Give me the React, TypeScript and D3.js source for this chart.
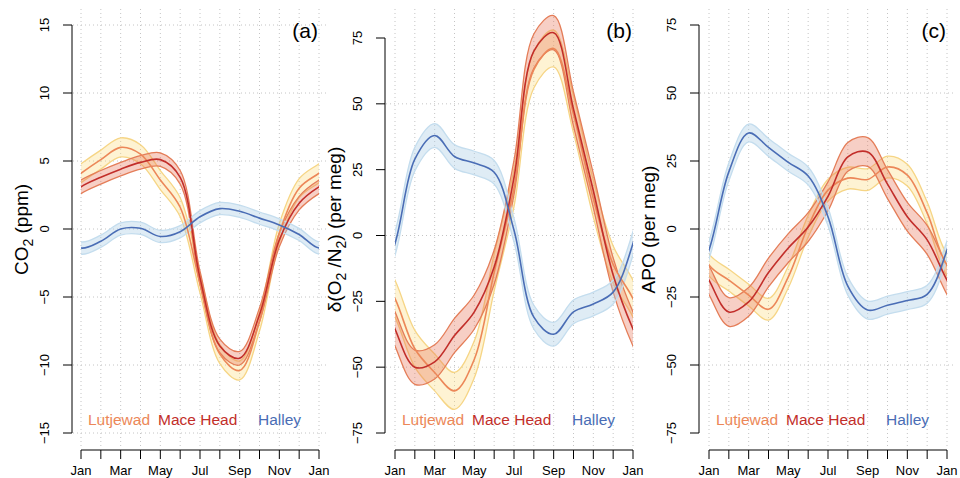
import React, { useEffect, useRef } from "react";
import * as d3 from "d3";

// month index 0..12 (Jan .. next Jan)
const months = ["Jan", "Feb", "Mar", "Apr", "May", "Jun", "Jul", "Aug", "Sep", "Oct", "Nov", "Dec", "Jan"];
const tickLabels = ["Jan", "", "Mar", "", "May", "", "Jul", "", "Sep", "", "Nov", "", "Jan"];
const sites = ["Lutjewad", "Mace Head", "Halley"];

// (a) CO2, ppm
const co2Lutjewad = [4.1, 5.1, 6.0, 5.5, 3.6, 1.6, -4.0, -9.2, -10.4, -6.8, -0.3, 3.0, 4.1];
const co2MaceHead = [3.1, 3.8, 4.4, 4.9, 5.1, 3.8, -3.6, -8.6, -9.5, -6.3, -0.8, 1.9, 3.1];
const co2Halley = [-1.4, -0.9, 0.0, 0.05, -0.55, -0.2, 0.9, 1.5, 1.3, 0.8, 0.3, -0.4, -1.4];
const co2Band = [0.7, 0.5, 0.45];

// (b) d(O2/N2), per meg
const o2Lutjewad = [-24, -43, -52, -59, -47, -14, 18, 63, 71, 46, 14, -11, -24];
const o2MaceHead = [-35.5, -50, -48, -38, -29, -12, 22, 70, 77, 48, 17, -15, -35.5];
const o2Halley = [-3, 29, 38, 30, 27.5, 24, 2, -31, -37.5, -29, -26, -21.5, -3];
const o2Band = [7, 6.5, 4.5];

// (c) APO, per meg
const apoLutjewad = [-13.2, -18.8, -24.3, -29.5, -17.6, 1, 14.3, 18.7, 18.2, 22.8, 19.8, 5.9, -13.2];
const apoMaceHead = [-18.8, -30.5, -26.8, -16, -7, 0.7, 12, 26.5, 28.3, 16.5, 4.5, -4, -18.8];
const apoHalley = [-7.7, 21, 35.3, 30, 24.5, 19.5, 4.5, -21, -29.8, -28, -26.3, -24, -7.7];
const apoBand = [4, 5.3, 3.3];

const yTicksA = [-15, -10, -5, 0, 5, 10, 15];
const yTicksBC = [-75, -50, -25, 0, 25, 50, 75];
const gridA = [-15, -10, -5, 0, 5, 10, 15];
const gridBC = [-50, 0, 50];

const lineColors = ["#EC8758", "#C22E2A", "#4A6DB5"];
const bandFill = ["rgba(253,222,130,0.35)", "rgba(232,110,80,0.33)", "rgba(170,205,230,0.38)"];
const bandStroke = ["#F6D585", "#E47D58", "#C4DDEE"];

const FONT = "'Liberation Sans', Arial, Helvetica, sans-serif";

const panels = [
  {
    id: "a", label: "(a)", axisX: 72, x0: 81, yTop: 25, domain: [-15, 15],
    yTicks: yTicksA, grid: gridA, band: co2Band,
    series: [co2Lutjewad, co2MaceHead, co2Halley],
    title: [["CO", 0], ["2", 1], [" (ppm)", 0]],
  },
  {
    id: "b", label: "(b)", axisX: 385, x0: 395, yTop: 38, domain: [-75, 75],
    yTicks: yTicksBC, grid: gridBC, band: o2Band,
    series: [o2Lutjewad, o2MaceHead, o2Halley],
    title: [["\u03b4(O", 0], ["2", 1], [" /N", 0], ["2", 1], [") (per meg)", 0]],
  },
  {
    id: "c", label: "(c)", axisX: 699, x0: 709, yTop: 25, domain: [-75, 75],
    yTicks: yTicksBC, grid: gridBC, band: apoBand,
    series: [apoLutjewad, apoMaceHead, apoHalley],
    title: [["APO (per meg)", 0]],
  },
];

function drawPanel(svg: any, p: any) {
  const x = d3.scaleLinear().domain([0, 12]).range([p.x0, p.x0 + 238]);
  const y = d3.scaleLinear().domain(p.domain).range([433, p.yTop]);
  const top = 9;
  const bottom = 450;
  const right = p.axisX + 257;

  const g = svg.append("g");

  // dotted grid
  g.append("g")
    .selectAll("line")
    .data(d3.range(13))
    .join("line")
    .attr("x1", (d: number) => x(d))
    .attr("x2", (d: number) => x(d))
    .attr("y1", top)
    .attr("y2", bottom - 1)
    .attr("stroke", "#C4C4C4")
    .attr("stroke-dasharray", "1,3");
  g.append("g")
    .selectAll("line")
    .data(p.grid)
    .join("line")
    .attr("x1", p.axisX + 1)
    .attr("x2", right)
    .attr("y1", (d: number) => y(d))
    .attr("y2", (d: number) => y(d))
    .attr("stroke", "#C4C4C4")
    .attr("stroke-dasharray", "1,3");

  // clip to Jan..Jan
  svg.append("clipPath")
    .attr("id", "clip-" + p.id)
    .append("rect")
    .attr("x", x(0))
    .attr("y", 0)
    .attr("width", x(12) - x(0))
    .attr("height", 478);

  const wrap = (vals: number[]) =>
    d3.range(-1, 14).map(i => ({ m: i, v: vals[(i + 12) % 12] }));

  const plot = g.append("g").attr("clip-path", `url(#clip-${p.id})`);

  p.series.forEach((vals: number[], k: number) => {
    const hw = p.band[k];
    const area = d3.area<any>()
      .x(d => x(d.m))
      .y0(d => y(d.v - hw))
      .y1(d => y(d.v + hw))
      .curve(d3.curveCatmullRom);
    plot.append("path")
      .attr("d", area(wrap(vals)))
      .attr("fill", bandFill[k])
      .attr("stroke", bandStroke[k])
      .attr("stroke-width", 1.3);
  });

  p.series.forEach((vals: number[], k: number) => {
    const line = d3.line<any>()
      .x(d => x(d.m))
      .y(d => y(d.v))
      .curve(d3.curveCatmullRom);
    plot.append("path")
      .attr("d", line(wrap(vals)))
      .attr("fill", "none")
      .attr("stroke", lineColors[k])
      .attr("stroke-width", 1.6);
  });

  // y axis
  const ya = g.append("g").attr("font-family", FONT).attr("font-size", 13);
  ya.append("line")
    .attr("x1", p.axisX).attr("x2", p.axisX)
    .attr("y1", y(p.yTicks[0])).attr("y2", y(p.yTicks[p.yTicks.length - 1]))
    .attr("stroke", "#000");
  p.yTicks.forEach((t: number) => {
    ya.append("line")
      .attr("x1", p.axisX - 9).attr("x2", p.axisX)
      .attr("y1", y(t)).attr("y2", y(t))
      .attr("stroke", "#000");
    ya.append("text")
      .attr("transform", `translate(${p.axisX - 23},${y(t)}) rotate(-90)`)
      .attr("text-anchor", "middle")
      .text(t < 0 ? "\u2212" + Math.abs(t) : String(t));
  });

  // x axis
  const xa = g.append("g").attr("font-family", FONT).attr("font-size", 13);
  xa.append("line")
    .attr("x1", x(0)).attr("x2", x(12))
    .attr("y1", bottom).attr("y2", bottom)
    .attr("stroke", "#000");
  months.forEach((m, i) => {
    xa.append("line")
      .attr("x1", x(i)).attr("x2", x(i))
      .attr("y1", bottom).attr("y2", bottom + 9)
      .attr("stroke", "#000");
    if (tickLabels[i])
      xa.append("text")
        .attr("x", x(i))
        .attr("y", 475)
        .attr("text-anchor", "middle")
        .text(tickLabels[i]);
  });

  // y title
  const title = g.append("text")
    .attr("transform", `translate(${p.axisX - 44},${(top + bottom) / 2}) rotate(-90)`)
    .attr("text-anchor", "middle")
    .attr("font-family", FONT)
    .attr("font-size", 19);
  let shift = 0;
  p.title.forEach(([s, sub]: [string, number]) => {
    const dy = sub ? 5 - shift : -shift;
    shift = sub ? 5 : 0;
    title.append("tspan")
      .attr("dy", dy)
      .attr("font-size", sub ? 14 : 19)
      .text(s);
  });

  // panel label
  g.append("text")
    .attr("x", x(12) - 1)
    .attr("y", 38)
    .attr("text-anchor", "end")
    .attr("font-family", FONT)
    .attr("font-size", 21)
    .text(p.label);

  // site labels
  const offs = [7, 77, 177];
  sites.forEach((s, k) => {
    g.append("text")
      .attr("x", x(0) + offs[k])
      .attr("y", 425)
      .attr("font-family", FONT)
      .attr("font-size", 15.5)
      .attr("fill", lineColors[k])
      .text(s);
  });
}

export default function App() {
  const ref = useRef<SVGSVGElement>(null);

  useEffect(() => {
    const svg = d3.select(ref.current);
    svg.selectAll("*").remove();
    panels.forEach(p => drawPanel(svg, p));
  }, []);

  return (
    <svg
      ref={ref}
      width={960}
      height={478}
      style={{ position: "absolute", left: 0, top: 0, background: "#fff" }}
    />
  );
}
